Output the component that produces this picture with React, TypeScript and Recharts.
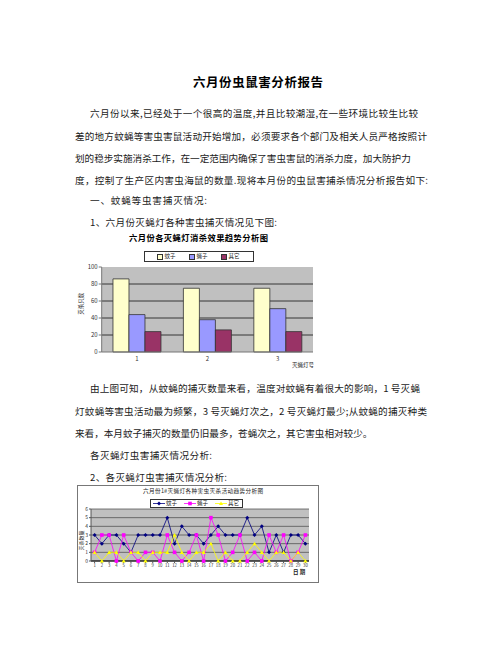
import React from 'react';
import { BarChart, Bar, XAxis, YAxis, CartesianGrid, LineChart, Line } from 'recharts';

// ---- Chart 1: per-lamp totals ----
const lampNos = ['1', '2', '3'];
const lampMosquito = [86, 75, 75];
const lampFly = [44, 38, 51];
const lampOther = [24, 26, 24];
const barTicks = [0, 20, 40, 60, 80, 100];

// ---- Chart 2: daily catches of lamp 1# ----
const days = ['1', '2', '3', '4', '5', '6', '7', '8', '9', '10', '11', '12', '13', '14', '15',
  '16', '17', '18', '19', '20', '21', '22', '23', '24', '25', '26', '27', '28', '29', '30'];
const dayMosquito = [3, 2, 3, 3, 2, 1, 3, 3, 3, 3, 5, 2, 4, 3, 3, 2, 3, 4, 3, 3, 3, 5, 3, 4, 1, 3, 1, 3, 3, 2];
const dayFly = [1, 3, 3, 0, 3, 1, 0, 1, 1, 0, 3, 1, 0, 1, 3, 0, 5, 3, 0, 1, 3, 0, 1, 0, 3, 1, 3, 0, 1, 3];
const dayOther = [1, 0, 1, 1, 0, 1, 1, 0, 1, 1, 1, 3, 1, 0, 1, 1, 2, 0, 1, 0, 0, 1, 2, 1, 0, 1, 1, 0, 1, 0];
const lineTicks = [0, 1, 2, 3, 4, 5, 6];

const seriesNames = ['蚊子', '蝇子', '其它'];
const barColors = ['#FFFFCC', '#9999FF', '#993366'];
const lineColors = ['#000080', '#FF00FF', '#FFFF00'];

const barData = lampNos.map((n, i) => ({ n, a: lampMosquito[i], b: lampFly[i], c: lampOther[i] }));
const lineData = days.map((d, i) => ({ d, a: dayMosquito[i], b: dayFly[i], c: dayOther[i] }));

const FONT = '"Noto Sans CJK SC", "Noto Sans", sans-serif';

const T = ({ x, y, w, size = 9.6, bold = false, color = '#1a1a1a', children }: any) => {
  const lh = Math.round(size * 1.3);
  return (
    <div
      style={{
        position: 'absolute',
        left: x,
        top: y - lh / 2,
        width: w,
        fontSize: size,
        lineHeight: `${lh}px`,
        whiteSpace: 'nowrap',
        textAlign: w ? 'justify' : 'left',
        textAlignLast: w ? 'justify' : 'left',
        fontWeight: bold ? 700 : 400,
        color,
      } as any}
    >
      {children}
    </div>
  );
};

const VT = ({ x, y, size = 5.5, children }: any) => (
  <div
    style={{
      position: 'absolute',
      left: x - 30,
      top: y - size * 0.7,
      width: 60,
      textAlign: 'center',
      fontSize: size,
      lineHeight: `${size * 1.4}px`,
      transform: 'rotate(-90deg)',
      color: '#222',
      whiteSpace: 'nowrap',
    }}
  >
    {children}
  </div>
);

const Diamond = (p: any) => {
  const { cx, cy } = p;
  if (cx == null || cy == null) return <g key={p.key} />;
  const r = 2;
  return <path key={p.key} d={`M${cx},${cy - r}L${cx + r},${cy}L${cx},${cy + r}L${cx - r},${cy}Z`} fill="#000080" />;
};
const Square = (p: any) => {
  const { cx, cy } = p;
  if (cx == null || cy == null) return <g key={p.key} />;
  const r = 1.8;
  return <rect key={p.key} x={cx - r} y={cy - r} width={2 * r} height={2 * r} fill="#FF00FF" />;
};
const Tri = (p: any) => {
  const { cx, cy } = p;
  if (cx == null || cy == null) return <g key={p.key} />;
  const r = 2;
  return <path key={p.key} d={`M${cx},${cy - r}L${cx + r},${cy + r * 0.8}L${cx - r},${cy + r * 0.8}Z`} fill="#FFFF00" />;
};

export default function App() {
  return (
    <div
      style={{
        position: 'absolute',
        left: 0,
        top: 0,
        width: 502,
        height: 649,
        background: '#fff',
        overflow: 'hidden',
        fontFamily: FONT,
      }}
    >
      {/* Title */}
      <T x={193} y={81.5} w={130} size={12.5} bold color="#000">六月份虫鼠害分析报告</T>

      <T x={90} y={113} w={328}>六月份以来,已经处于一个很高的温度,并且比较潮湿,在一些环境比较生比较</T>
      <T x={75} y={136} w={352}>差的地方蚊蝇等害虫害鼠活动开始增加，必须要求各个部门及相关人员严格按照计</T>
      <T x={75} y={158} w={322}>划的稳步实施消杀工作，在一定范围内确保了害虫害鼠的消杀力度，加大防护力</T>
      <T x={75} y={180} w={353}>度，控制了生产区内害虫海鼠的数量.现将本月份的虫鼠害捕杀情况分析报告如下:</T>
      <T x={90} y={200} w={117}>一、蚊蝇等虫害捕灭情况:</T>
      <T x={90} y={221.5} w={187}>1、六月份灭蝇灯各种害虫捕灭情况见下图:</T>

      {/* Chart 1 */}
      <T x={129} y={237.5} w={139} size={8.3} bold color="#000">六月份各灭蝇灯消杀效果趋势分析图</T>
      <div
        style={{
          position: 'absolute',
          left: 144,
          top: 251,
          width: 108,
          height: 9,
          border: '1px solid #333',
          background: '#fff',
        }}
      >
        {seriesNames.map((s, i) => (
          <div key={s} style={{ position: 'absolute', left: 12 + i * 32, top: 0, height: 9, display: 'flex', alignItems: 'center' }}>
            <div style={{ width: 4, height: 4, background: barColors[i], border: '0.5px solid #333', marginRight: 1.5 }} />
            <span style={{ fontSize: 5.5, lineHeight: '9px', color: '#222' }}>{s}</span>
          </div>
        ))}
      </div>
      <VT x={82} y={304}>灭杀只数</VT>
      <div style={{ position: 'absolute', left: 60, top: 225 }}>
        <BarChart
          width={280}
          height={160}
          data={barData}
          margin={{ top: 42, right: 27, bottom: 18, left: 11.7 }}
          barCategoryGap="16%"
          barGap={0}
        >
          <CartesianGrid
            vertical={false}
            horizontalValues={[20, 40, 60, 80]}
            stroke="#111"
            strokeWidth={0.8}
            fill="#C0C0C0"
            fillOpacity={1}
          />
          <XAxis
            dataKey="n"
            height={15}
            tickLine={false}
            tickSize={2}
            tickMargin={3}
            axisLine={{ stroke: '#777' }}
            tick={{ fontSize: 6, fill: '#333', fontFamily: FONT }}
          />
          <YAxis
            width={30}
            domain={[0, 100]}
            ticks={barTicks}
            interval={0}
            tickSize={3}
            tickMargin={1}
            axisLine={{ stroke: '#777' }}
            tickLine={{ stroke: '#777' }}
            tick={{ fontSize: 6, fill: '#333', fontFamily: FONT }}
          />
          <Bar dataKey="a" name={seriesNames[0]} fill={barColors[0]} stroke="#333" strokeWidth={0.8} isAnimationActive={false} />
          <Bar dataKey="b" name={seriesNames[1]} fill={barColors[1]} stroke="#333" strokeWidth={0.8} isAnimationActive={false} />
          <Bar dataKey="c" name={seriesNames[2]} fill={barColors[2]} stroke="#333" strokeWidth={0.8} isAnimationActive={false} />
        </BarChart>
      </div>
      <T x={292} y={365} size={5.5} color="#222">灭蝇灯号</T>

      <T x={90} y={388} w={330}>由上图可知，从蚊蝇的捕灭数量来看，温度对蚊蝇有着很大的影响，1 号灭蝇</T>
      <T x={75} y={411} w={352}>灯蚊蝇等害虫活动最为频繁，3 号灭蝇灯次之，2 号灭蝇灯最少;从蚊蝇的捕灭种类</T>
      <T x={75} y={433} w={287}>来看，本月蚊子捕灭的数量仍旧最多，苍蝇次之，其它害虫相对较少。</T>
      <T x={90} y={455} w={122}>各灭蝇灯虫害捕灭情况分析:</T>
      <T x={90} y={477} w={137}>2、各灭蝇灯虫害捕灭情况分析:</T>

      {/* Chart 2 */}
      <div style={{ position: 'absolute', left: 77, top: 485, width: 240, height: 96, border: '1px solid #777', background: '#fff' }} />
      <T x={143} y={491} w={120} size={5.6} color="#222">六月份1#灭蝇灯各种害虫灭杀活动趋势分析图</T>
      <div
        style={{
          position: 'absolute',
          left: 150,
          top: 499,
          width: 91,
          height: 7,
          border: '1px solid #333',
          background: '#fff',
        }}
      >
        {seriesNames.map((s, i) => (
          <div key={s} style={{ position: 'absolute', left: 2 + i * 31, top: 0, height: 7, display: 'flex', alignItems: 'center' }}>
            <svg width={12} height={7} style={{ marginRight: 1 }}>
              <line x1={0} y1={3.5} x2={12} y2={3.5} stroke={lineColors[i]} strokeWidth={0.8} />
              {i === 0 && <path d="M6,1.5L8,3.5L6,5.5L4,3.5Z" fill={lineColors[0]} />}
              {i === 1 && <rect x={4.2} y={1.7} width={3.6} height={3.6} fill={lineColors[1]} />}
              {i === 2 && <path d="M6,1.5L8,5.1L4,5.1Z" fill={lineColors[2]} />}
            </svg>
            <span style={{ fontSize: 5.5, lineHeight: '7px', color: '#222' }}>{s}</span>
          </div>
        ))}
      </div>
      <VT x={80} y={540} size={5}>灭杀数量</VT>
      <div style={{ position: 'absolute', left: 77, top: 485 }}>
        <LineChart
          width={241}
          height={97}
          data={lineData}
          margin={{ top: 24, right: 9, bottom: 11, left: 0 }}
        >
          <CartesianGrid vertical={false} stroke="#444" strokeWidth={0.7} fill="#C0C0C0" fillOpacity={1} />
          <XAxis
            dataKey="d"
            height={10}
            interval={0}
            padding={{ left: 3.6, right: 3.6 }}
            tickSize={2}
            tickMargin={1}
            axisLine={{ stroke: '#000' }}
            tickLine={{ stroke: '#555' }}
            tick={{ fontSize: 4.3, fill: '#333', fontFamily: FONT }}
          />
          <YAxis
            width={14}
            domain={[0, 6]}
            ticks={lineTicks}
            interval={0}
            tickSize={2}
            tickMargin={1}
            axisLine={{ stroke: '#555' }}
            tickLine={{ stroke: '#555' }}
            tick={{ fontSize: 5, fill: '#333', fontFamily: FONT }}
          />
          <Line dataKey="a" name={seriesNames[0]} stroke={lineColors[0]} strokeWidth={0.8} dot={(p: any) => <Diamond {...p} key={`a${p.index}`} />} activeDot={false} isAnimationActive={false} />
          <Line dataKey="b" name={seriesNames[1]} stroke={lineColors[1]} strokeWidth={0.8} dot={(p: any) => <Square {...p} key={`b${p.index}`} />} activeDot={false} isAnimationActive={false} />
          <Line dataKey="c" name={seriesNames[2]} stroke={lineColors[2]} strokeWidth={0.8} dot={(p: any) => <Tri {...p} key={`c${p.index}`} />} activeDot={false} isAnimationActive={false} />
        </LineChart>
      </div>
      <T x={293} y={572} size={5.5} bold color="#222">日 期</T>
    </div>
  );
}
